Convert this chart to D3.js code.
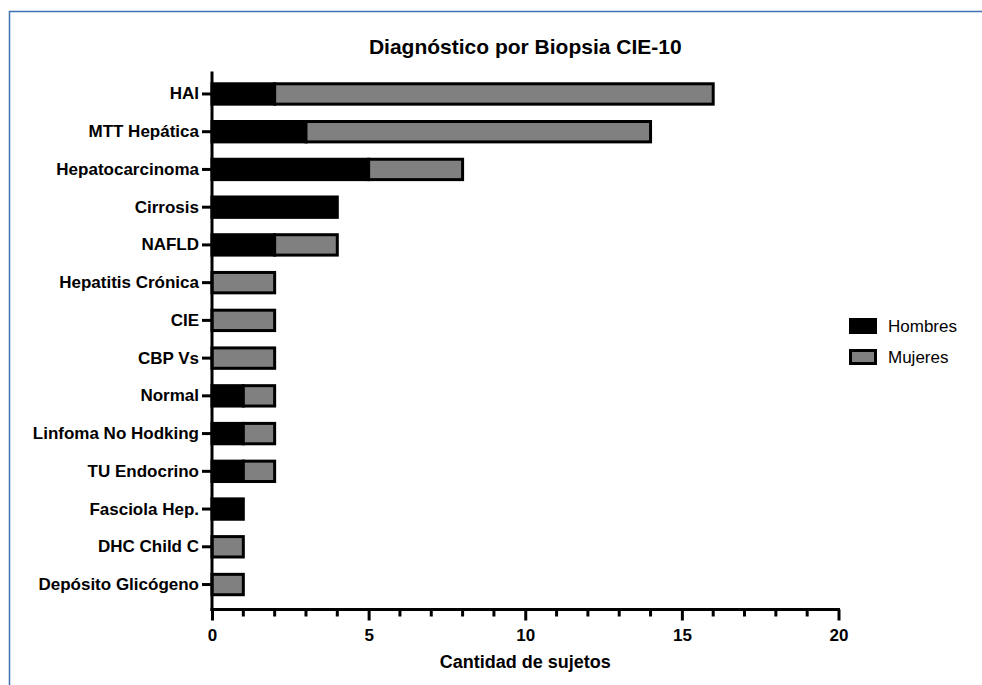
<!DOCTYPE html>
<html><head><meta charset="utf-8">
<script src="https://cdn.jsdelivr.net/npm/d3@7"></script>
<style>body{margin:0;background:#fff}svg{display:block}text{font-family:"Liberation Sans",Arial,sans-serif}</style>
</head><body>
<svg id="c" width="982" height="685"></svg>
<script>
const categories = ["HAI","MTT Hepática","Hepatocarcinoma","Cirrosis","NAFLD","Hepatitis Crónica","CIE","CBP Vs","Normal","Linfoma No Hodking","TU Endocrino","Fasciola Hep.","DHC Child C","Depósito Glicógeno"];
const hombres = [2,3,5,4,2,0,0,0,1,1,1,1,0,0];
const mujeres = [14,11,3,0,2,2,2,2,1,1,1,0,1,1];
const seriesNames = ["Hombres","Mujeres"];
const seriesColors = ["#000000","#808080"];
const xTicks = [0,5,10,15,20];
const title = "Diagnóstico por Biopsia CIE-10";
const xTitle = "Cantidad de sujetos";

const svg = d3.select("#c");
// frame
svg.append("line").attr("x1",9).attr("x2",982).attr("y1",11.5).attr("y2",11.5).attr("stroke","#3f72b0").attr("stroke-width",1.5);
svg.append("line").attr("x1",9.5).attr("x2",9.5).attr("y1",11).attr("y2",685).attr("stroke","#3f72b0").attr("stroke-width",1.5);

const axisY = 609.5;
const x = d3.scaleLinear().domain([0,20]).range([212,838.5]);
const pad = 0.46;
const y = d3.scaleBand().domain(categories).range([75.1,603.4]).paddingInner(pad).paddingOuter(pad/2);

const data = categories.map((c,i)=>({cat:c,h:hombres[i],m:mujeres[i]}));
const stack = d3.stack().keys(["h","m"])(data);

const g = svg.append("g");
stack.forEach((s,si)=>{
  g.selectAll(null).data(s.filter(d=>d[1]>d[0])).enter().append("rect")
    .attr("x",d=>x(d[0])).attr("width",d=>x(d[1])-x(d[0]))
    .attr("y",d=>y(d.data.cat)).attr("height",y.bandwidth())
    .attr("fill",seriesColors[si]).attr("stroke","#000").attr("stroke-width",3);
});

// axes
const yAxis = d3.axisLeft(y).tickSize(10).tickPadding(3);
const ya = svg.append("g").attr("transform",`translate(${x(0)},0)`).call(yAxis);
ya.select(".domain").remove();
ya.append("line").attr("x1",0).attr("x2",0).attr("y1",71.5).attr("y2",axisY+1.5).attr("stroke","#000").attr("stroke-width",3);
ya.selectAll(".tick line").attr("stroke-width",3);
ya.selectAll(".tick text").attr("font-size",17).attr("font-weight","bold").attr("fill","#000");

const xa = svg.append("g").attr("transform",`translate(0,${axisY})`);
xa.call(d3.axisBottom(x).tickValues(xTicks).tickSize(11).tickPadding(8));
xa.select(".domain").remove();
xa.append("line").attr("x1",x(0)-1.5).attr("x2",x(20)+1.5).attr("y1",0).attr("y2",0).attr("stroke","#000").attr("stroke-width",3);
xa.selectAll(".tick line").attr("stroke-width",3);
xa.selectAll(".tick text").attr("font-size",17).attr("font-weight","bold").attr("fill","#000");
// minor ticks
xa.selectAll(".minor").data(d3.range(0,21).filter(v=>v%5!==0)).enter().append("line")
  .attr("x1",d=>x(d)).attr("x2",d=>x(d)).attr("y1",0).attr("y2",7).attr("stroke","#000").attr("stroke-width",3);

svg.append("text").attr("x",(x(0)+x(20))/2).attr("y",54).attr("text-anchor","middle")
  .attr("font-size",21).attr("font-weight","bold").text(title);
svg.append("text").attr("x",(x(0)+x(20))/2).attr("y",668).attr("text-anchor","middle")
  .attr("font-size",18).attr("font-weight","bold").text(xTitle);

// legend
const lg = svg.append("g");
seriesNames.forEach((n,i)=>{
  const yy = 318 + i*31;
  lg.append("rect").attr("x",850.5).attr("y",yy+1.5).attr("width",25).attr("height",13)
    .attr("fill",seriesColors[i]).attr("stroke","#000").attr("stroke-width",3);
  lg.append("text").attr("x",888).attr("y",yy+14).attr("font-size",17).text(n);
});
</script>
</body></html>
